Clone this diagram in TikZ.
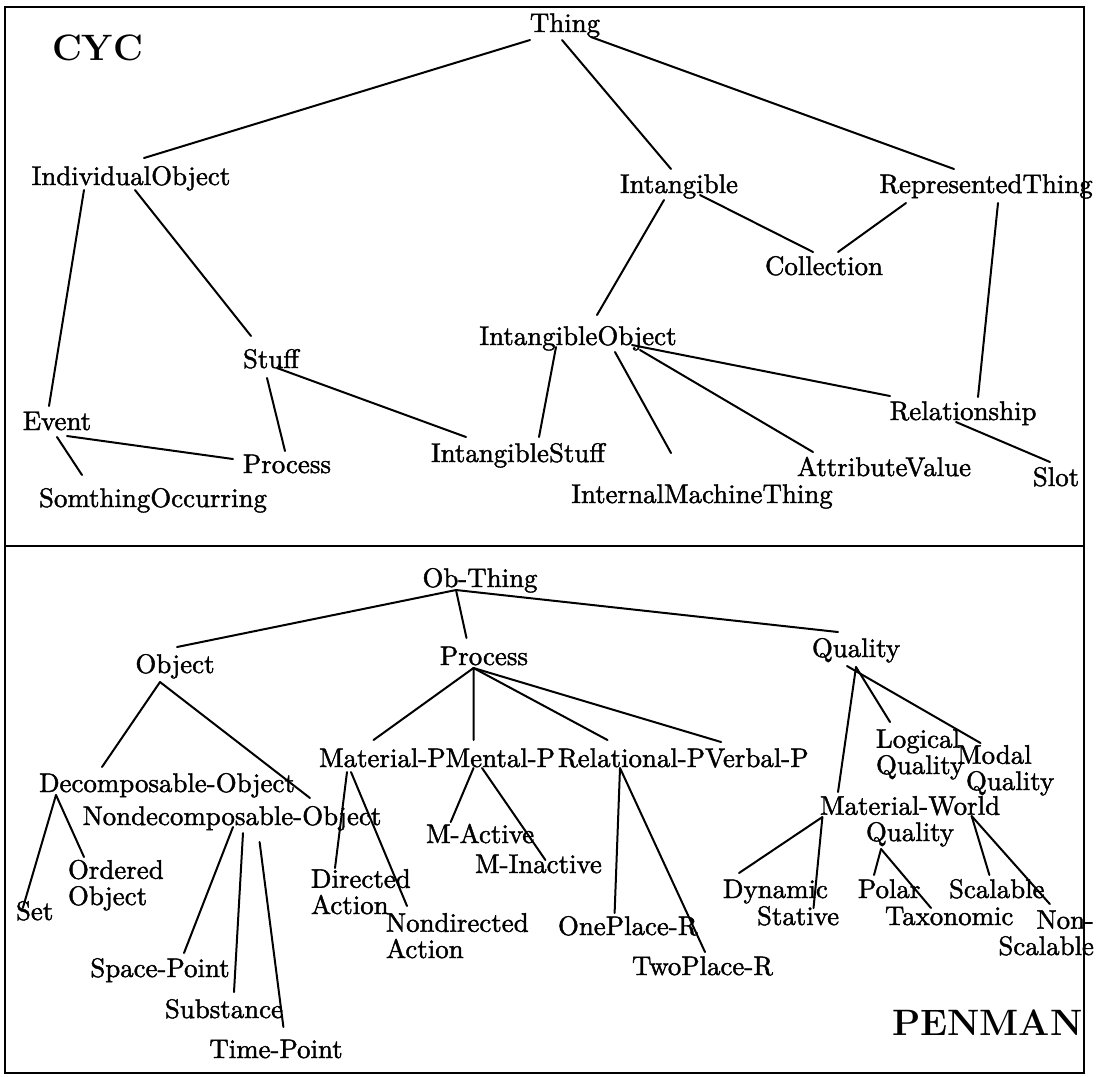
\documentclass[tikz,border=0pt]{standalone}
\usepackage{fontspec}
\newfontface\scanfont{Latin Modern Roman}[FakeBold=1.5]
\begin{document}
\begin{tikzpicture}[x=0.4pt,y=-0.4pt,
  lbl/.style={inner sep=0pt,outer sep=0pt,anchor=base,font=\scanfont\fontsize{10.75}{10.5}\selectfont},
  big/.style={inner sep=0pt,outer sep=0pt,font=\fontsize{14.7}{16}\selectfont\bfseries},
  lnk/.style={line width=0.8pt,line cap=round},
  frame/.style={line width=1.1pt}]
\useasboundingbox (0,0) rectangle (1097,1076);
\draw[frame] (5,7) rectangle (1084,1073);
\draw[frame] (5,546) -- (1084,546);
% ---------- CYC ----------
\node[big,anchor=base west] (cyc) at (52,60) {CYC};
\node[lbl] (thing) at (565,32) {Thing};
\node[lbl] (io) at (131,185) {IndividualObject};
\node[lbl] (intangible) at (679,193) {Intangible};
\node[lbl] (rep) at (986,193) {RepresentedThing};
\node[lbl] (collection) at (824,275) {Collection};
\node[lbl] (stuff) at (271,368) {Stuff};
\node[lbl] (intobj) at (578,345) {IntangibleObject};
\node[lbl] (event) at (57,430) {Event};
\node[lbl] (proc1) at (287,473) {Process};
\node[lbl] (intstuff) at (518,462) {IntangibleStuff};
\node[lbl] (rel) at (963,420) {Relationship};
\node[lbl] (attr) at (884,476) {AttributeValue};
\node[lbl] (slot) at (1056,486) {Slot};
\node[lbl] (somocc) at (153,507) {SomthingOccurring};
\node[lbl] (imt) at (702,503) {InternalMachineThing};
\draw[lnk] ([shift={(-35,8)}]thing.base) -- ([shift={(13,-27)}]io.base);
\draw[lnk] ([shift={(-3,8)}]thing.base) -- ([shift={(-8,-24)}]intangible.base);
\draw[lnk] ([shift={(26,5)}]thing.base) -- ([shift={(-32,-24)}]rep.base);
\draw[lnk] ([shift={(-47,5)}]io.base) -- ([shift={(-8,-24)}]event.base);
\draw[lnk] ([shift={(4,5)}]io.base) -- ([shift={(-20,-32)}]stuff.base);
\draw[lnk] ([shift={(-15,7)}]intangible.base) -- ([shift={(19,-30)}]intobj.base);
\draw[lnk] ([shift={(21,2)}]intangible.base) -- ([shift={(-11,-23)}]collection.base);
\draw[lnk] ([shift={(-80,10)}]rep.base) -- ([shift={(14,-23)}]collection.base);
\draw[lnk] ([shift={(12,10)}]rep.base) -- ([shift={(15,-23)}]rel.base);
\draw[lnk] ([shift={(-4,10)}]stuff.base) -- ([shift={(-2,-22)}]proc1.base);
\draw[lnk] ([shift={(6,0)}]stuff.base) -- ([shift={(-52,-25)}]intstuff.base);
\draw[lnk] ([shift={(10,6)}]event.base) -- ([shift={(-54,-14)}]proc1.base);
\draw[lnk] ([shift={(0,7)}]event.base) -- ([shift={(-71,-32)}]somocc.base);
\draw[lnk] ([shift={(-22,2)}]intobj.base) -- ([shift={(21,-25)}]intstuff.base);
\draw[lnk] ([shift={(37,7)}]intobj.base) -- ([shift={(-31,-50)}]imt.base);
\draw[lnk] ([shift={(62,5)}]intobj.base) -- ([shift={(-71,-24)}]attr.base);
\draw[lnk] ([shift={(54,0)}]intobj.base) -- ([shift={(-73,-24)}]rel.base);
\draw[lnk] ([shift={(-7,2)}]rel.base) -- ([shift={(-6,-24)}]slot.base);
% ---------- PENMAN ----------
\node[lbl] (obthing) at (480,587) {Ob-Thing};
\node[lbl] (object) at (175,673) {Object};
\node[lbl] (proc2) at (484,665) {Process};
\node[lbl] (quality) at (856,657) {Quality};
\node[lbl,anchor=base west] (matp) at (319,767) {Material-P};
\node[lbl,anchor=base west] (menp) at (matp.base east) {Mental-P};
\node[lbl,anchor=base west] (relp) at (558,767) {Relational-P};
\node[lbl,anchor=base west] (verp) at (relp.base east) {Verbal-P};
\node[lbl,anchor=base west,align=left] (logical) at (876,774) {Logical\\Quality};
\node[lbl,anchor=base west,align=left] (modal) at (957,790) {Modal\\\hspace*{3.6pt}Quality};
\node[lbl,align=center] (mwq) at (910,841) {Material-World\\Quality};
\node[lbl] (decomp) at (167,792) {Decomposable-Object};
\node[lbl] (nondecomp) at (232,825) {Nondecomposable-Object};
\node[lbl,anchor=base west,align=left] (ordered) at (68,905) {Ordered\\Object};
\node[lbl,anchor=base west] (set) at (16,920) {Set};
\node[lbl] (spacept) at (160,977) {Space-Point};
\node[lbl] (substance) at (224,1018) {Substance};
\node[lbl] (timept) at (276,1058) {Time-Point};
\node[lbl,anchor=base west,align=left] (directed) at (311,914) {Directed\\Action};
\node[lbl,anchor=base west,align=left] (nondirected) at (386,958) {Nondirected\\Action};
\node[lbl,anchor=base west] (mactive) at (426,843) {M-Active};
\node[lbl,anchor=base west] (minactive) at (475,873) {M-Inactive};
\node[lbl,anchor=base west] (oneplace) at (558,935) {OnePlace-R};
\node[lbl,anchor=base west] (twoplace) at (632,975) {TwoPlace-R};
\node[lbl,anchor=base west] (dynamic) at (723,898) {Dynamic};
\node[lbl,anchor=base west] (stative) at (757,925) {Stative};
\node[lbl,anchor=base west] (polar) at (858,898) {Polar};
\node[lbl,anchor=base west] (taxonomic) at (885,925) {Taxonomic};
\node[lbl,anchor=base west] (scalable) at (949,898) {Scalable};
\node[lbl,anchor=base east,align=right] (nonscal) at (1094,955) {Non-\\Scalable};
\node[big,anchor=base west] (penman) at (892,1035) {PENMAN};
\draw[lnk] ([shift={(-24,3)}]obthing.base) -- ([shift={(2,-26)}]object.base);
\draw[lnk] ([shift={(-24,3)}]obthing.base) -- ([shift={(-17.5,-27)}]proc2.base);
\draw[lnk] ([shift={(-24,3)}]obthing.base) -- ([shift={(-18,-25)}]quality.base);
\draw[lnk] ([shift={(-15,9)}]object.base) -- ([shift={(-65,-25)}]decomp.base);
\draw[lnk] ([shift={(-15,9)}]object.base) -- ([shift={(78,-27)}]nondecomp.base);
\draw[lnk] ([shift={(-10.5,3)}]proc2.base) -- ([shift={(54.5,-27)}]matp.base west);
\draw[lnk] ([shift={(-10.5,3)}]proc2.base) -- ([shift={(27.9,-27)}]menp.base west);
\draw[lnk] ([shift={(-10.5,3)}]proc2.base) -- ([shift={(49.5,-27)}]relp.base west);
\draw[lnk] ([shift={(-10.5,3)}]proc2.base) -- ([shift={(16,-25)}]verp.base west);
\draw[lnk] ([shift={(0,10)}]quality.base) -- ([shift={(-72,-49)}]mwq.base);
\draw[lnk] ([shift={(0,10)}]quality.base) -- ([shift={(14,-52)}]logical.base west);
\draw[lnk] ([shift={(-9,9)}]quality.base) -- ([shift={(23.5,-47)}]modal.base west);
\draw[lnk] ([shift={(-111,3)}]decomp.base) -- ([shift={(6.8,-12)}]set.base west);
\draw[lnk] ([shift={(-111,3)}]decomp.base) -- ([shift={(16,-48)}]ordered.base west);
\draw[lnk] ([shift={(1,2)}]nondecomp.base) -- ([shift={(24,-24)}]spacept.base);
\draw[lnk] ([shift={(11,8)}]nondecomp.base) -- ([shift={(10,-26)}]substance.base);
\draw[lnk] ([shift={(27.6,17)}]nondecomp.base) -- ([shift={(7.4,-31)}]timept.base);
\draw[lnk] ([shift={(28,5)}]matp.base west) -- ([shift={(24,-46)}]directed.base west);
\draw[lnk] ([shift={(32,5)}]matp.base west) -- ([shift={(21,-52)}]nondirected.base west);
\draw[lnk] ([shift={(27.9,1)}]menp.base west) -- ([shift={(24.7,-21)}]mactive.base west);
\draw[lnk] ([shift={(36.4,1)}]menp.base west) -- ([shift={(70.4,-13)}]minactive.base west);
\draw[lnk] ([shift={(62,1)}]relp.base west) -- ([shift={(56.6,-22)}]oneplace.base west);
\draw[lnk] ([shift={(62,1)}]relp.base west) -- ([shift={(73,-23)}]twoplace.base west);
\draw[lnk] ([shift={(-87.6,-24)}]mwq.base) -- ([shift={(16,-25)}]dynamic.base west);
\draw[lnk] ([shift={(-87.6,-24)}]mwq.base) -- ([shift={(56.5,-17)}]stative.base west);
\draw[lnk] ([shift={(-29,8)}]mwq.base) -- ([shift={(16,-23)}]polar.base west);
\draw[lnk] ([shift={(-29,8)}]mwq.base) -- ([shift={(46,-17)}]taxonomic.base west);
\draw[lnk] ([shift={(61.6,-25)}]mwq.base) -- ([shift={(40.4,-23)}]scalable.base west);
\draw[lnk] ([shift={(61.6,-25)}]mwq.base) -- ([shift={(-44.2,-51)}]nonscal.base east);
\end{tikzpicture}
\end{document}
